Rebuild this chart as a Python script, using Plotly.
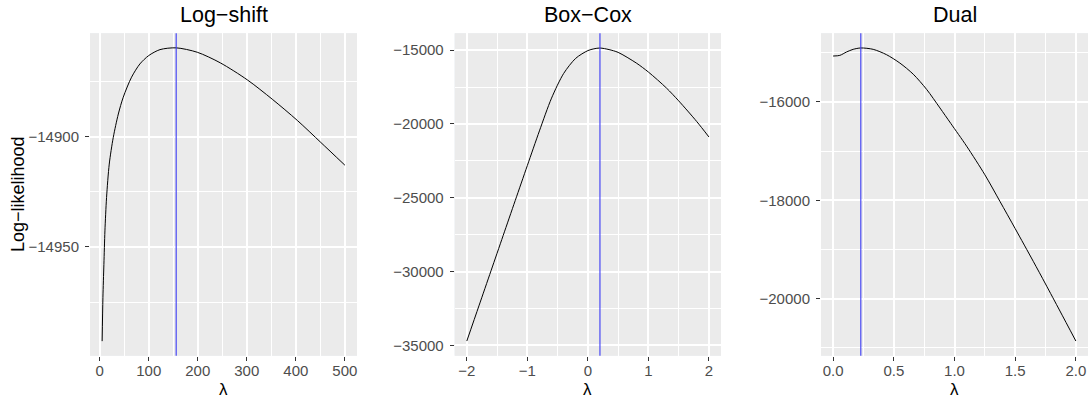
import plotly.graph_objects as go

# Profile log-likelihood over the transformation parameter lambda
logshift_lambda = [5, 6.6, 8.6, 10.7, 14, 19.5, 27.7, 38, 48, 65, 82, 100, 123, 156,
                   199, 246, 301, 352, 403, 451, 500]
logshift_ll = [-14992.7, -14973, -14957.9, -14942.7, -14927.6, -14912.4, -14900.3,
               -14889.7, -14882.1, -14873, -14867, -14863.2, -14860.5, -14859.7,
               -14861.7, -14866.5, -14874.2, -14883, -14892.6, -14902.6, -14912.9]

boxcox_lambda = [-2.0, -1.8, -1.6, -1.4, -1.2, -1.0, -0.8, -0.6, -0.4, -0.2, 0.0, 0.1,
                 0.2, 0.35, 0.5, 0.8, 1.0, 1.3, 1.5, 1.8, 2.0]
boxcox_ll = [-34710, -32330, -29950, -27570, -25190, -22820, -20470, -18250, -16580,
             -15550, -15030, -14910, -14855, -14960, -15150, -15870, -16480, -17570,
             -18430, -19840, -20880]

dual_lambda = [0.0, 0.055, 0.11, 0.165, 0.228, 0.33, 0.44, 0.55, 0.66, 0.77, 0.88,
               0.97, 1.1, 1.25, 1.374, 1.5, 1.649, 1.75, 1.869, 2.0]
dual_ll = [-15068, -15055, -14986, -14932, -14904, -14932, -15041, -15211, -15437,
           -15745, -16123, -16440, -16900, -17480, -18020, -18575, -19240, -19700,
           -20250, -20860]

# Maximum-likelihood estimates of lambda
lambda_hat = [156, 0.2, 0.228]

panel_titles = ["Log\u2212shift", "Box\u2212Cox", "Dual"]
y_title = "Log\u2212likelihood"
x_title = "\u03bb"

W, H = 1089, 400
FONT = "Liberation Sans, Arial, sans-serif"
PANEL_BG = "#EBEBEB"

# panel placement in pixels (left, right); shared top/bottom
panels_px = [(90, 357), (454.7, 721), (821, 1088)]
top_px, bottom_px = 33.3, 355.7
ydom = [1 - bottom_px / H, 1 - top_px / H]

series = [(logshift_lambda, logshift_ll), (boxcox_lambda, boxcox_ll), (dual_lambda, dual_ll)]

x_axes = [
    dict(range=[-19.75, 524.75], tick0=0, dtick=100, minor=dict(tick0=0, dtick=50)),
    dict(range=[-2.2, 2.2], tick0=0, dtick=1, minor=dict(tick0=0, dtick=0.5)),
    dict(range=[-0.1, 2.1], tick0=0, dtick=0.5, tickformat=".1f",
         minor=dict(tick0=0, dtick=0.25)),
]
y_axes = [
    dict(range=[-14999.3, -14853.1], tick0=-14900, dtick=50,
         minor=dict(tick0=-14900, dtick=25)),
    dict(range=[-35703, -13857], tick0=-15000, dtick=5000,
         minor=dict(tick0=-15000, dtick=2500)),
    dict(range=[-21158, -14606], tick0=-16000, dtick=2000,
         minor=dict(tick0=-16000, dtick=1000)),
]

fig = go.Figure()
layout = dict(
    width=W, height=H,
    margin=dict(l=0, r=0, t=0, b=0),
    paper_bgcolor="white",
    showlegend=False,
    font=dict(family=FONT, color="black"),
    annotations=[],
    shapes=[],
)

common_axis = dict(
    showgrid=True, gridcolor="white", gridwidth=2,
    zeroline=False, showline=False,
    ticks="outside", ticklen=4, tickwidth=1.4, tickcolor="#333333",
    tickfont=dict(family=FONT, size=15, color="#4D4D4D"),
)

for i, ((lx, ly), (l, r)) in enumerate(zip(series, panels_px)):
    n = "" if i == 0 else str(i + 1)
    xa, ya = "x" + n, "y" + n
    fig.add_trace(go.Scatter(
        x=lx, y=ly, mode="lines", xaxis=xa, yaxis=ya,
        line=dict(color="black", width=1, shape="spline", smoothing=0.8),
        hoverinfo="skip",
    ))
    xd = dict(common_axis, domain=[l / W, r / W], anchor=ya,
              ticklabelstandoff=-3, **x_axes[i])
    xd["minor"] = dict(xd["minor"], showgrid=True, gridcolor="white", gridwidth=1, ticks="")
    yd = dict(common_axis, domain=ydom, anchor=xa, tickformat="d",
              ticklabelstandoff=3, **y_axes[i])
    yd["minor"] = dict(yd["minor"], showgrid=True, gridcolor="white", gridwidth=1, ticks="")
    layout["xaxis" + n] = xd
    layout["yaxis" + n] = yd

    # panel background
    layout["shapes"].append(dict(
        type="rect", xref=xa + " domain", yref=ya + " domain",
        x0=0, x1=1, y0=0, y1=1, fillcolor=PANEL_BG, line=dict(width=0), layer="below",
    ))
    # vertical line at the estimate
    layout["shapes"].append(dict(
        type="line", xref=xa, yref=ya + " domain",
        x0=lambda_hat[i], x1=lambda_hat[i], y0=0, y1=1,
        line=dict(color="#3A3AF5", width=1.1), layer="above",
    ))

    cx = (l + r) / 2 / W
    layout["annotations"].append(dict(
        text=panel_titles[i], xref="paper", yref="paper", x=cx, y=1 - 15 / H,
        showarrow=False, xanchor="center", yanchor="middle",
        font=dict(family=FONT, size=21.5, color="black"),
    ))
    layout["annotations"].append(dict(
        text=x_title, xref="paper", yref="paper", x=cx, y=0,
        showarrow=False, xanchor="center", yanchor="bottom", borderpad=0,
        font=dict(family=FONT, size=17, color="black"),
    ))

layout["annotations"].append(dict(
    text=y_title, xref="paper", yref="paper", x=17.5 / W, y=1 - 194.5 / H,
    showarrow=False, xanchor="center", yanchor="middle", textangle=-90,
    font=dict(family=FONT, size=18, color="black"),
))

fig.update_layout(**layout)
fig.write_html("out.html")
